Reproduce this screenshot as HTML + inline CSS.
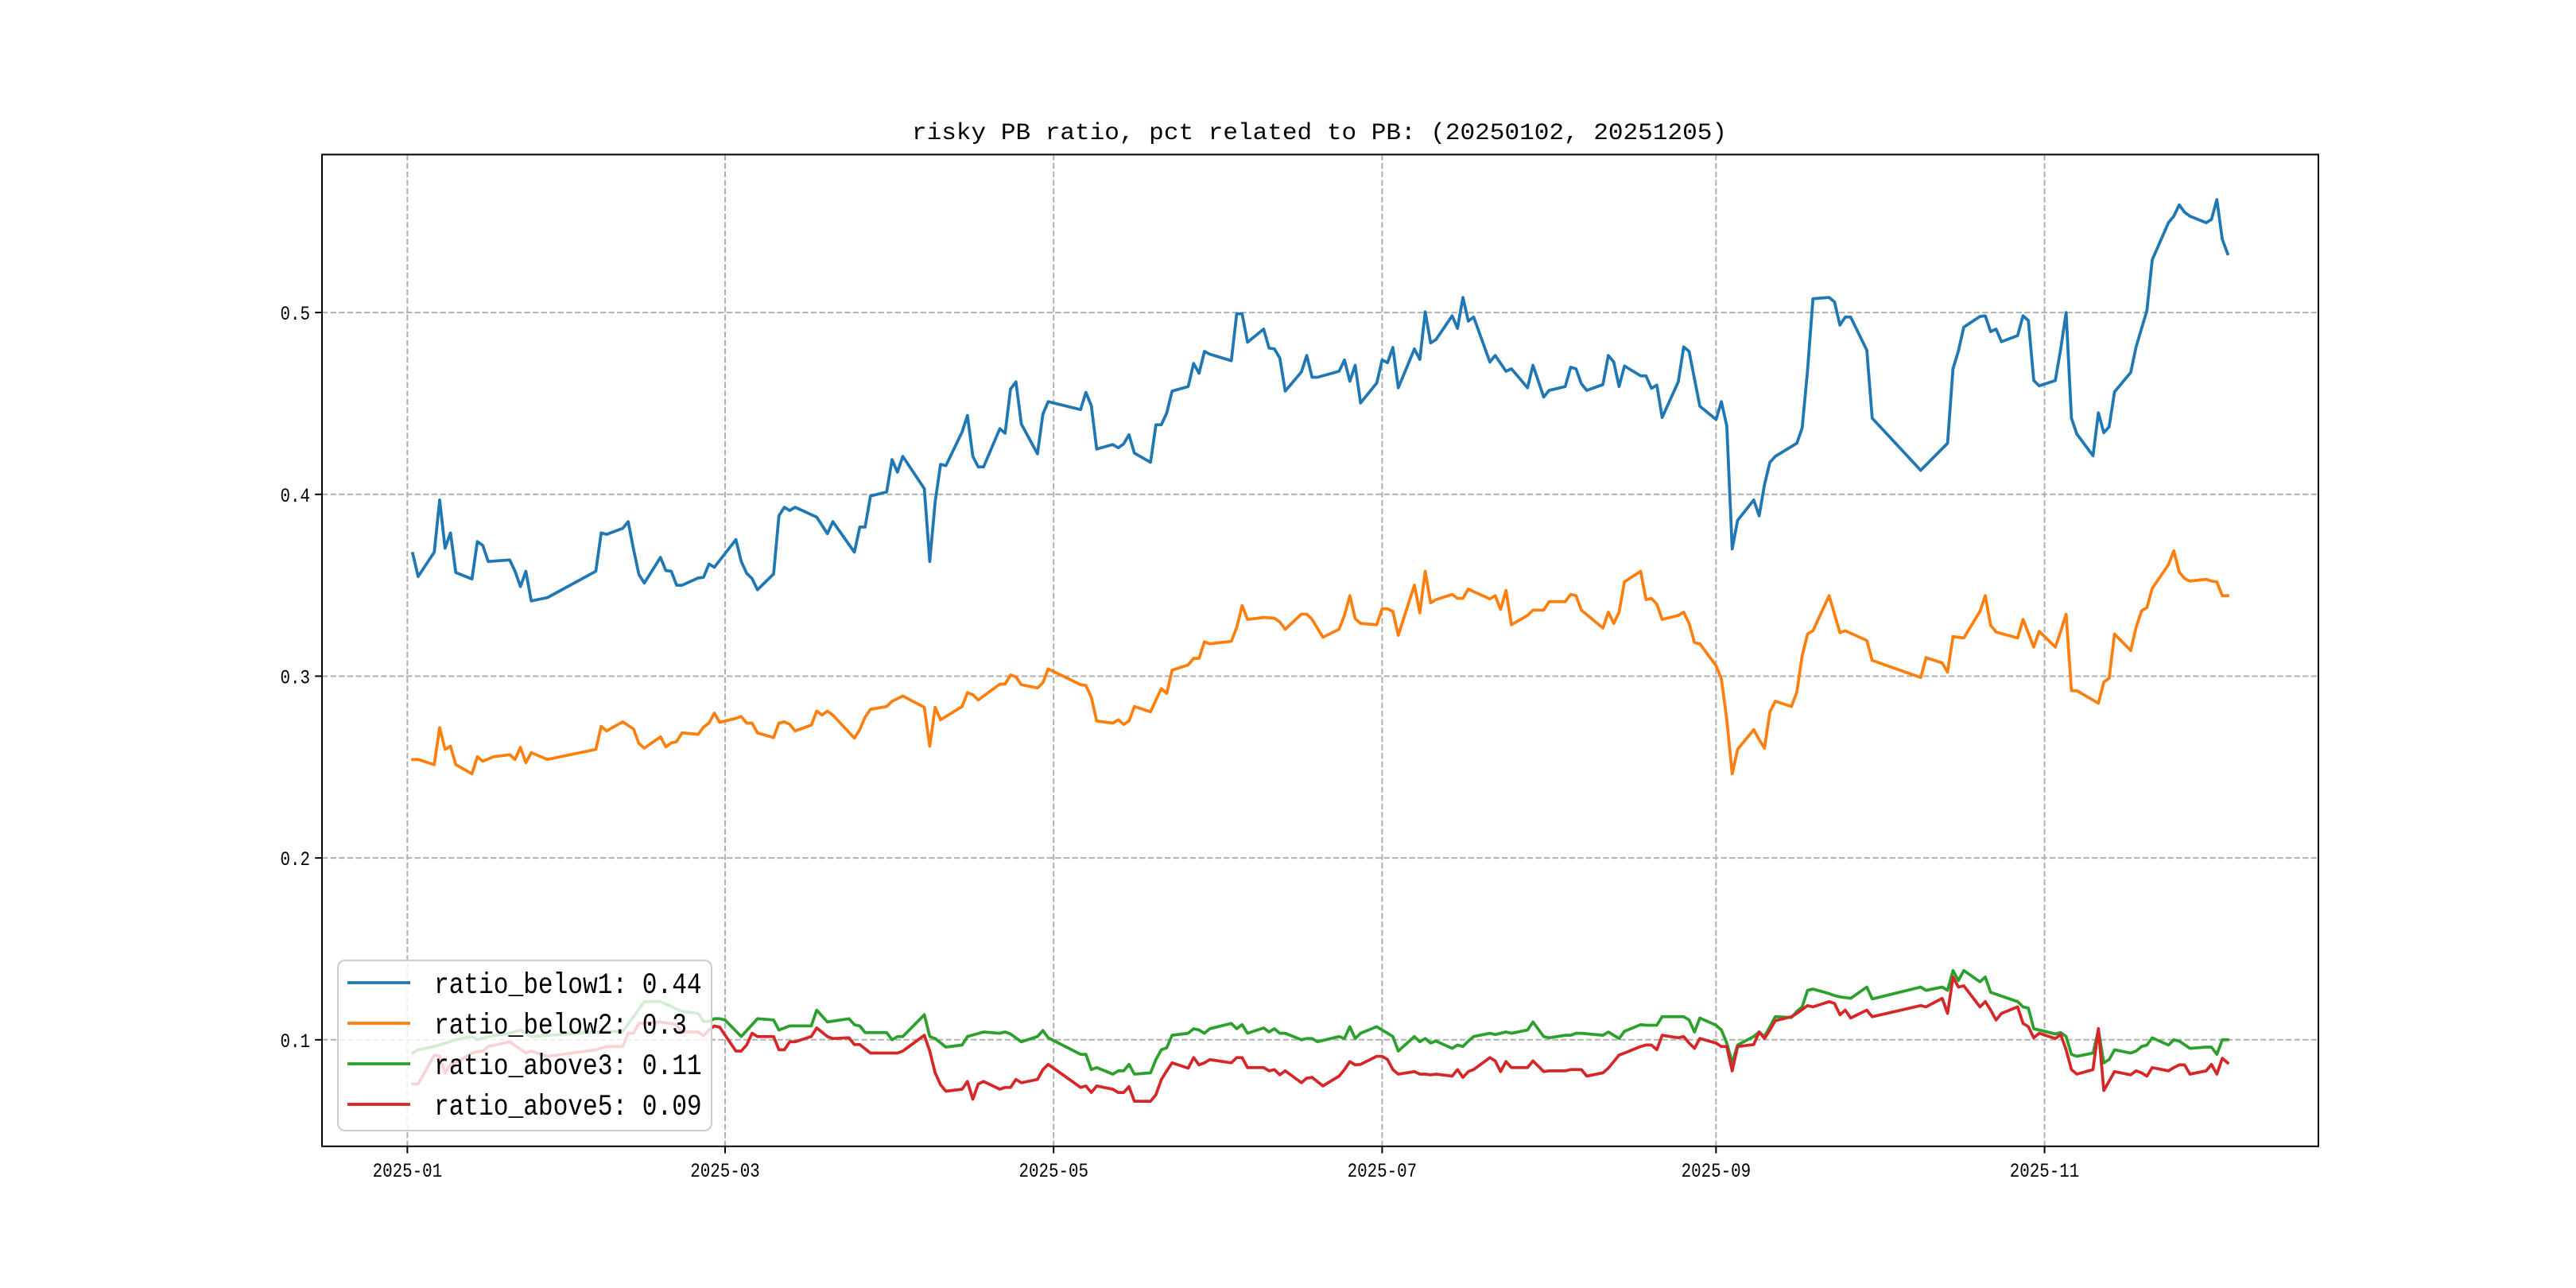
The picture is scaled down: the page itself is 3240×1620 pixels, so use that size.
<!DOCTYPE html>
<html><head><meta charset="utf-8"><style>
html,body{margin:0;padding:0;background:#fff;}
svg{display:block;}
text{font-family:"Liberation Mono","Noto Sans CJK SC",monospace;fill:#000;}
</style></head><body>
<svg id="chart" width="3240" height="1620" viewBox="0 0 3240 1620" xmlns="http://www.w3.org/2000/svg">
<rect x="0" y="0" width="3240" height="1620" fill="#fff"/>
<text x="1147" y="175" font-size="30" textLength="1025" lengthAdjust="spacingAndGlyphs">risky PB ratio, pct related to PB: (20250102, 20251205)</text>
<g id="grid"></g>
<g id="series"></g>
<g id="axes"></g>
<g id="legend"></g>
</svg>
<script>
// days since 2025-01-01
const below1Days=[1,2,5,6,7,8,9,12,13,14,15,19,20,21,22,23,26,35,36,37,40,41,42,43,44,47,48,49,50,51,54,55,56,57,61,62,63,64,65,68,69,70,71,72,76,78,79,83,84,85,86,89,90,91,92,96,97,98,99,100,103,104,105,106,107,110,111,112,113,114,117,118,119,125,126,127,128,
131,132,133,134,135,138,139,140,141,142,145,146,147,148,149,153,154,155,156,159,160,161,162,163,166,167,168,169,173,174,175,176,177,180,181,182,183,184,187,188,189,190,191,194,195,196,197,198,201,202,204,205,208,209,211,212,215,216,217,218,219,222,223,224,225,226,229,230,231,232,233,236,237,238,240,243,244,245,246,247,250,251,252,253,254,258,259,260,261,264,265,266,267,268,271,
272,281,286,287,288,289,292,293,294,295,296,299,300,301,302,303,306,307,308,309,310,313,314,315,316,317,320,321,323,324,327,328,329,330,331,334,335,336,337,338];
const below1Vals=[.3675,.3548,.3682,.3969,.3704,.3788,.357,.3534,.374,.3719,.3631,.3639,.3577,.3493,.3577,.3414,.3432,.3577,.3788,.378,.3813,.385,.3697,.3559,.3512,.3653,.3581,.3577,.35,.35,.354,.3544,.3617,.3599,.3751,.3631,.3566,.3537,.3475,.3562,.3882,.3929,.3911,.3929,.3875,.3784,.385,.3682,.382,.382,.3991,.4013,.4191,.4122,.4209,.4031,.3631,.3958,.4165,.4158,.4343,.4434,.4209,.4151,.4151,.4361,.4336,.4579,.4619,.4387,.4223,.4441,.451,.4466,.4561,.4488,.4249,
.4274,.4256,.4278,.4328,.4227,.4176,.4383,.4383,.4448,.4568,.4593,.472,.4666,.4786,.4771,.4735,.4993,.4993,.4837,.4909,.4804,.48,.475,.4568,.4673,.4764,.4644,.4644,.4677,.4739,.4622,.471,.4503,.4612,.4739,.4724,.4808,.4586,.48,.4742,.5004,.4833,.4851,.4982,.4913,.5083,.4953,.4975,.4728,.4764,.4677,.4691,.4586,.471,.4535,.4572,.4593,.4699,.4691,.4608,.4572,.4604,.4764,.4728,.4593,.4706,.4652,.4652,.4583,.4601,.4423,.4619,.4811,.4786,.4485,.4412,.451,.4376,.37,.3857,.3969,.3882,.4053,.4176,.4209,.4281,.4365,.4684,.5076,.5083,.5058,.4931,.4975,.4975,.4793,
.4419,.4132,.4281,.4691,.4789,.492,.4978,.4982,.4895,.4909,.484,.4873,.4982,.4956,.4626,.4597,.4626,.48,.5,.4419,.4332,.4212,.4448,.4339,.4372,.4564,.467,.4811,.5011,.529,.5494,.553,.5592,.5552,.553,.5494,.5512,.5621,.5403,.5323];

const below2Days=[1,2,5,6,7,8,9,12,13,14,16,19,20,21,22,23,26,35,36,37,40,42,43,44,47,48,49,50,51,54,55,56,57,58,61,62,63,64,65,68,69,70,71,72,75,76,77,78,79,83,84,85,86,89,90,92,96,97,98,99,103,104,105,106,110,111,112,113,114,117,118,119,125,126,127,128,
131,132,133,134,135,138,139,140,141,142,145,146,147,148,149,153,154,155,156,159,161,162,163,166,167,168,170,173,174,175,176,177,180,181,182,183,184,187,188,189,190,191,194,195,196,197,198,201,202,203,204,205,208,209,211,212,215,216,217,218,222,223,224,225,226,229,230,231,232,233,236,237,238,239,240,243,244,245,246,247,250,251,252,253,254,257,258,259,260,261,264,266,267,271,
272,281,282,285,286,287,289,292,293,294,295,299,300,302,303,306,307,308,309,310,314,315,316,317,320,321,322,323,324,327,328,329,330,331,334,335,336,337,338];
const below2Vals=[.2542,.2542,.2513,.2717,.2597,.2615,.2513,.2463,.2557,.2532,.2557,.2568,.2542,.2608,.2524,.2579,.2542,.2597,.2724,.2699,.2749,.2709,.263,.2604,.2666,.2611,.2633,.264,.2688,.268,.272,.2742,.2797,.2746,.2768,.2778,.2742,.2742,.2688,.2662,.2742,.2749,.2735,.2699,.2731,.2808,.2786,.2808,.2786,.2659,.2706,.2775,.2818,.2833,.2862,.2891,.2829,.2615,.2829,.276,.2833,.2909,.2898,.2869,.2956,.2956,.3007,.2996,.2953,.2935,.2964,.304,.2953,.2949,.2884,.2753,
.2742,.276,.2735,.2753,.2833,.2804,.2869,.2931,.2905,.3033,.3062,.3098,.3098,.3189,.3178,.3192,.3268,.3388,.3312,.3323,.3319,.3298,.3258,.3341,.3341,.3312,.3214,.3258,.3334,.3443,.3316,.329,.3283,.337,.337,.3356,.3225,.3501,.3348,.3577,.3403,.3421,.345,.3428,.3428,.3479,.3465,.3425,.3443,.3367,.3472,.3283,.3334,.3363,.3363,.341,.341,.345,.3443,.3363,.3265,.3352,.329,.3352,.3519,.3577,.3421,.3428,.3396,.3312,.3334,.3352,.329,.3185,.3178,.3058,.2985,.276,.2463,.2597,.2706,.2651,.2604,.2804,.2862,.2833,.2913,.3112,.3232,.325,.3443,.3239,.325,.3196,
.3087,.2993,.3102,.3073,.3022,.3218,.321,.3356,.3443,.3279,.3243,.321,.3312,.316,.3247,.316,.3247,.3341,.292,.292,.2851,.2967,.2989,.3232,.3141,.3268,.3359,.3377,.3483,.3613,.369,.3573,.3537,.3523,.3533,.3523,.3519,.3443,.3443];

const above3Days=[1,2,5,9,12,13,15,19,21,23,35,40,42,44,47,51,54,55,56,57,58,59,62,65,68,69,71,75,76,78,82,83,84,85,89,90,91,92,96,97,98,100,103,104,107,110,111,112,114,117,118,119,125,126,127,128,
131,132,133,134,135,138,139,140,141,142,145,146,147,148,149,153,154,155,156,159,160,161,162,163,166,167,168,169,173,174,175,176,177,180,181,183,184,187,188,189,190,191,194,195,196,197,198,201,202,204,205,208,209,211,212,215,216,217,218,222,223,224,225,226,229,230,231,232,233,236,237,238,239,240,243,244,245,246,247,250,251,252,253,254,257,258,259,260,261,264,265,266,268,271,
272,281,282,285,286,287,288,289,292,293,294,299,300,301,302,303,306,307,308,309,310,313,314,315,316,317,320,321,322,323,324,327,328,329,331,334,335,336,337,338];
const above3Vals=[.0927,.0945,.0963,.1,.1018,.1,.1018,.1036,.1054,.1018,.1043,.1047,.1127,.121,.121,.1156,.1145,.1101,.1101,.1116,.1116,.1109,.1018,.1116,.1109,.1054,.1076,.1076,.1163,.1098,.1116,.1083,.1076,.104,.104,.1,.1018,.1018,.1138,.1018,.1007,.096,.0971,.1018,.1043,.1036,.1043,.1032,.0989,.1018,.1051,.1011,.092,.092,.0836,.0847,
.0811,.0829,.0829,.0865,.0811,.0818,.0891,.0945,.0956,.1025,.1036,.1061,.1054,.1036,.1061,.109,.1061,.1083,.1036,.1065,.1043,.1061,.1036,.1036,.1,.1007,.1007,.0989,.1018,.1007,.1072,.1007,.1036,.1072,.1054,.1018,.0938,.1018,.0989,.1007,.0982,.0993,.0953,.0971,.0963,.0993,.1018,.1036,.1029,.1043,.1036,.1054,.1098,.1018,.1011,.1025,.1025,.1036,.1036,.1025,.1043,.1025,.1007,.1047,.1083,.108,.108,.108,.1127,.1127,.1127,.1109,.1043,.112,.108,.1054,.0982,.0873,.0971,.1018,.1043,.1018,.1072,.1127,.1123,.1156,.1181,.1272,.1279,.1254,.1243,.1236,.1228,.129,
.1225,.129,.1272,.129,.1272,.1381,.1326,.1381,.1319,.1345,.1261,.121,.1181,.1174,.1061,.1054,.1032,.104,.1018,.092,.0909,.0927,.1054,.0873,.0891,.0945,.0927,.0938,.0963,.0971,.1011,.0971,.1,.0993,.0953,.096,.096,.092,.1,.1];

const above5Days=[1,2,5,6,7,8,9,12,13,14,15,19,22,23,26,35,37,40,41,42,43,47,50,51,54,55,56,57,58,61,62,63,64,65,68,69,70,71,72,75,76,78,79,82,83,84,86,91,92,96,97,98,99,100,103,104,105,106,107,110,111,112,113,114,117,118,119,125,126,127,128,
131,132,133,134,135,138,139,140,141,142,145,146,147,148,149,153,154,155,156,159,160,161,162,163,166,167,168,170,173,174,175,176,177,180,181,182,183,184,187,188,189,190,191,194,195,196,197,198,201,202,203,204,205,208,209,211,212,215,216,218,219,222,223,225,226,229,230,231,232,233,236,237,238,239,240,243,244,245,246,247,250,251,252,253,254,257,258,260,261,264,265,266,267,268,271,
272,281,282,285,286,287,288,289,292,293,294,295,296,299,300,301,302,303,306,307,308,309,310,313,314,315,317,320,321,322,323,324,327,328,329,330,331,334,335,336,337,338];
const above5Vals=[.0757,.0757,.0916,.0909,.0818,.0865,.0873,.0927,.0934,.0938,.0963,.0989,.0927,.0938,.0909,.0945,.0963,.0963,.1036,.1036,.109,.1098,.1083,.1043,.1043,.1022,.1054,.1076,.1069,.0938,.0938,.0971,.1036,.1018,.1018,.0945,.0945,.0989,.0989,.1018,.1065,.1018,.1007,.1011,.0974,.0974,.0927,.0927,.0938,.1025,.0938,.0818,.0753,.0717,.0728,.0771,.0673,.0757,.0771,.0728,.0738,.0738,.0782,.0764,.0782,.0836,.0865,.0738,.0746,.071,.0746,
.0728,.071,.071,.0742,.0662,.0662,.0698,.0782,.0829,.0873,.0844,.0902,.0862,.0873,.0891,.0873,.0902,.0902,.0847,.0847,.0829,.0836,.0807,.0829,.0764,.0789,.0793,.0746,.08,.0836,.088,.0862,.0865,.0909,.0909,.0891,.0836,.0811,.0825,.0811,.0811,.0807,.0811,.08,.0836,.0793,.0825,.0836,.0902,.0884,.0825,.088,.0847,.0847,.0884,.0825,.0829,.0829,.0836,.0836,.08,.0818,.0844,.0916,.0927,.0963,.0971,.0971,.0945,.1025,.1011,.1018,.0982,.0953,.1007,.0982,.0963,.0963,.0829,.0963,.0974,.1043,.1007,.1054,.1105,.1127,.1145,.1188,.1181,.121,.12,.1138,.1163,.112,.1163,
.1127,.1188,.1181,.1228,.1145,.1345,.129,.1297,.1181,.121,.1163,.1109,.1145,.1181,.109,.1072,.1011,.1036,.1007,.1029,.0945,.0836,.0811,.0836,.1061,.0721,.0825,.0807,.0829,.0818,.08,.0847,.0829,.0847,.0862,.0862,.0811,.0829,.0865,.0811,.0898,.0873];

const seriesNames=["ratio_below1","ratio_below2","ratio_above3","ratio_above5"];
const legendValues=["0.44","0.3","0.11","0.09"];
const yTickValues=[0.1,0.2,0.3,0.4,0.5];
const yTickLabels=["0.1","0.2","0.3","0.4","0.5"];
const xTickDays=[0,59,120,181,243,304];
const xTickLabels=["2025-01","2025-03","2025-05","2025-07","2025-09","2025-11"];

const NS="http://www.w3.org/2000/svg";
const colors=["#1f77b4","#ff7f0e","#2ca02c","#d62728"];
const allDays=[below1Days,below2Days,above3Days,above5Days];
const allVals=[below1Vals,below2Vals,above3Vals,above5Vals];
const L=405,R=2916,T=194.4,B=1441.8;
const fd=[].concat(...allDays), fv=[].concat(...allVals);
const dmin=Math.min(...fd), dmax=Math.max(...fd), vmin=Math.min(...fv), vmax=Math.max(...fv);
const x0=dmin-0.05*(dmax-dmin), x1=dmax+0.05*(dmax-dmin);
const y0=vmin-0.05*(vmax-vmin), y1=vmax+0.05*(vmax-vmin);
function xScale(d){return L+(d-x0)/(x1-x0)*(R-L);}
function yScale(v){return B-(v-y0)/(y1-y0)*(B-T);}
function mk(tag,attrs,parent){const e=document.createElementNS(NS,tag);for(const k in attrs)e.setAttribute(k,attrs[k]);parent.appendChild(e);return e;}

const grid=document.getElementById('grid'), ser=document.getElementById('series'), ax=document.getElementById('axes'), leg=document.getElementById('legend');
yTickValues.forEach((v,i)=>{
  const y=yScale(v);
  const g=mk('line',{x1:L,x2:R,y1:y,y2:y,stroke:'#b0b0b0','stroke-width':2,'stroke-dasharray':'7.4,3.2'},grid);
  
  
  const t=mk('line',{x1:L-8.75,x2:L,y1:y,y2:y,stroke:'#000','stroke-width':2},ax);
  
  
  const lb=mk('text',{x:L-15,y:y+9,'font-size':25,'text-anchor':'end',textLength:yTickLabels[i].length*12.5,lengthAdjust:'spacingAndGlyphs'},ax);
  lb.textContent=yTickLabels[i];
  
  
});
xTickDays.forEach((d,i)=>{
  const x=xScale(d);
  const g=mk('line',{x1:x,x2:x,y1:T,y2:B,stroke:'#b0b0b0','stroke-width':2,'stroke-dasharray':'7.4,3.2'},grid);
  
  
  const t=mk('line',{x1:x,x2:x,y1:B,y2:B+8.75,stroke:'#000','stroke-width':2},ax);
  
  
  const lb=mk('text',{x:x,y:B+38,'font-size':25,'text-anchor':'middle',textLength:xTickLabels[i].length*12.5,lengthAdjust:'spacingAndGlyphs'},ax);
  lb.textContent=xTickLabels[i];
  
  
});
const frame=mk('rect',{x:L,y:T,width:R-L,height:B-T,fill:'none',stroke:'#000','stroke-width':2},ax);



allDays.forEach((days,s)=>{
  const vals=allVals[s]; const n=Math.min(days.length,vals.length);
  let p='';
  for(let i=0;i<n;i++){p+=(i?'L':'M')+xScale(days[i]).toFixed(1)+','+yScale(vals[i]).toFixed(1);}
  const path=mk('path',{d:p,fill:'none',stroke:colors[s],'stroke-width':3.75,'stroke-linejoin':'round','stroke-linecap':'square'},ser);
  
  
});

const box=mk('rect',{x:425,y:1208,width:470,height:214,rx:9,fill:'#fff','fill-opacity':0.8,stroke:'#cccccc','stroke-width':2},leg);


const rowY=[1236,1287,1338,1389];
seriesNames.forEach((nm,s)=>{
  const ln=mk('line',{x1:437,x2:516,y1:rowY[s],y2:rowY[s],stroke:colors[s],'stroke-width':3.75},leg);
  
  
  const label=nm+': '+legendValues[s];
  const tx=mk('text',{x:546,y:rowY[s]+13,'font-size':37,textLength:label.length*18.7,lengthAdjust:'spacingAndGlyphs'},leg);
  tx.textContent=label;
  
  
});
</script>
</body></html>
